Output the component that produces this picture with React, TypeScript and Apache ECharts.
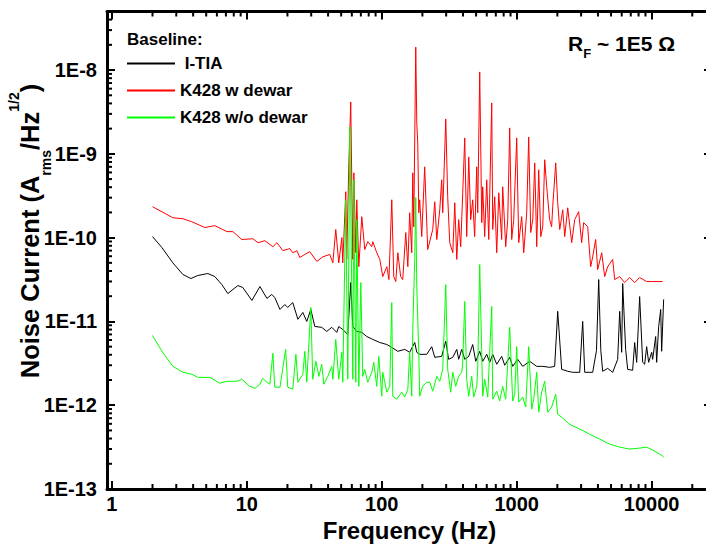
import React, { useEffect, useRef } from 'react';
import * as echarts from 'echarts';

const FONT = '"Liberation Sans", Arial, Helvetica, sans-serif';

// [frequency (Hz), noise current (A_rms / Hz^1/2)]
const tiaSpectrum: [number, number][] = [
  [2, 1.03e-10], [2.35, 7.6e-11], [2.83, 5.0e-11], [3.36, 3.63e-11], [3.85, 3.25e-11], [4.33, 3.53e-11],
  [5.14, 3.73e-11], [5.79, 3.43e-11], [6.53, 2.75e-11], [7.23, 2.15e-11], [8.58, 2.68e-11], [9.34, 2.54e-11],
  [10.9, 1.78e-11], [12.5, 2.61e-11], [14.1, 1.88e-11], [15.3, 2.1e-11], [16.1, 1.93e-11], [17.6, 1.39e-11],
  [19.1, 1.59e-11], [20.1, 1.47e-11], [21.9, 1.68e-11], [23.9, 1.06e-11], [26.0, 1.28e-11], [27.8, 1.0e-11],
  [29.8, 1.39e-11], [31.9, 8.7e-12], [35.9, 8.5e-12], [39.1, 7.6e-12], [42.6, 8.5e-12], [46.4, 7.4e-12],
  [48.0, 8.7e-12], [51.4, 8.0e-12], [56.0, 7.0e-12], [58.9, 2.91e-11], [61.0, 8.7e-12], [65.3, 7.6e-12],
  [71.1, 7.4e-12], [77.4, 6.6e-12], [85.8, 6.1e-12], [96.7, 5.6e-12], [109, 5.3e-12], [118.6, 4.9e-12],
  [131.5, 4.4e-12], [148, 4.64e-12], [161, 4.28e-12], [175.5, 5.6e-12], [181.7, 4.28e-12], [191, 4.05e-12],
  [215.4, 4.05e-12], [234.5, 5.0e-12], [247, 3.73e-12], [278, 3.83e-12], [298, 5.8e-12], [313, 3.53e-12],
  [336, 3.73e-12], [359.6, 4.64e-12], [371.5, 3.53e-12], [391.5, 4.64e-12], [412, 3.53e-12], [441, 3.83e-12],
  [472, 5.3e-12], [497, 3.34e-12], [532, 4.4e-12], [559.7, 3.34e-12], [599.5, 4.05e-12], [631, 3.25e-12],
  [664, 4.05e-12], [711, 3.08e-12], [774, 3.83e-12], [815, 3.0e-12], [887, 3.73e-12], [934, 2.91e-12],
  [1017, 3.53e-12], [1108, 2.91e-12], [1248, 3.34e-12], [1407, 2.91e-12], [1559, 2.91e-12], [1754, 2.83e-12],
  [1911, 2.91e-12], [2013, 1.32e-11], [2154, 2.68e-12], [2388, 2.54e-12], [2600, 2.47e-12], [2930, 2.47e-12],
  [3083, 1.0e-11], [3190, 2.47e-12], [3656, 2.47e-12], [3900, 4.5e-12], [4050, 3.16e-11], [4200, 4.5e-12],
  [4335, 2.54e-12], [4721, 2.75e-12], [5142, 2.47e-12], [5600, 3.53e-12], [5795, 1.32e-11], [5995, 4.28e-12],
  [6100, 2.83e-11], [6415, 4.64e-12], [6640, 2.68e-12], [7230, 2.61e-12], [7482, 5.6e-12], [7745, 3.25e-12],
  [8147, 1.98e-11], [8580, 3.25e-12], [8875, 3.08e-12], [9183, 5.0e-12], [9500, 3.25e-12], [10000, 4.28e-12],
  [10170, 3.53e-12], [10710, 6.6e-12], [10890, 3.25e-12], [11270, 8.7e-12], [11670, 1.39e-11], [11860, 4.4e-12],
  [12270, 1.83e-11],
];

const dewarSpectrum: [number, number][] = [
  [2, 2.34e-10], [2.83, 1.73e-10], [3.36, 1.68e-10], [3.91, 1.55e-10], [4.88, 1.32e-10], [5.79, 1.39e-10],
  [7.11, 1.18e-10], [7.88, 1.18e-10], [9.18, 9.5e-11], [11.1, 9.7e-11], [12.1, 8.7e-11], [13.6, 9.2e-11],
  [15.6, 7.8e-11], [16.7, 8.7e-11], [18.5, 7.0e-11], [20.8, 7.4e-11], [21.9, 6.6e-11], [23.5, 7.0e-11],
  [24.7, 5.8e-11], [26.9, 6.3e-11], [29.3, 6.8e-11], [33.0, 5.2e-11], [36.6, 5.9e-11], [41.2, 6.3e-11],
  [43.4, 5.0e-11], [45.6, 1.25e-10], [48.0, 5.0e-11], [50.6, 1.0e-10], [51.4, 5.0e-11], [54.1, 3.53e-10],
  [55.0, 5.5e-11], [57.0, 7.8e-10], [58.9, 4.16e-9], [61.0, 5.5e-11], [62.1, 5.94e-10], [64.2, 6.6e-11],
  [65.3, 2.83e-10], [67.6, 4.5e-11], [71.1, 1.78e-10], [74.8, 7.2e-11], [78.7, 8.96e-11], [84.3, 7.8e-11],
  [85.8, 8.96e-11], [91.8, 6.6e-11], [96.7, 5.5e-11], [101.7, 3.43e-11], [109, 4.5e-11], [113, 3.16e-11],
  [118.6, 2.83e-10], [122.7, 3.43e-11], [127, 2.99e-11], [131.5, 6.6e-11], [138, 3.43e-11], [143, 3.16e-11],
  [150.6, 1.15e-10], [156, 4.5e-11], [161, 1.98e-10], [166.8, 6.6e-11], [169.7, 5.94e-10], [172.6, 1.35e-10],
  [178.6, 1.88e-8], [181.7, 2.34e-9], [184.8, 1.35e-9], [188, 1.98e-10], [191, 2.83e-10], [197.8, 1.03e-10],
  [208, 7.0e-10], [219, 7.2e-11], [238.6, 1.25e-10], [247, 2.68e-10], [255.6, 9.5e-11], [269, 2.15e-10],
  [278, 4.9e-10], [283, 1.98e-10], [298, 2.61e-9], [308, 3.08e-10], [319, 8.7e-11], [336, 6.6e-11],
  [347.5, 2.61e-10], [359.6, 5.5e-11], [371.5, 1.64e-10], [384.6, 7.8e-11], [398, 3.43e-10], [412, 1.55e-9],
  [426, 1.03e-10], [441, 9.2e-10], [456, 1.64e-10], [472, 2.83e-10], [488, 1.03e-10], [505.6, 7.0e-10],
  [514, 1.98e-10], [532, 9.5e-9], [550.7, 1.51e-10], [559.7, 4.05e-10], [579, 1.03e-10], [599.5, 4.9e-10],
  [620.6, 9.5e-11], [653, 4.05e-9], [664, 1.25e-10], [687, 3.08e-10], [711, 6.6e-11], [736, 3.43e-10],
  [774, 9.5e-11], [787, 4.05e-10], [829, 7.8e-11], [858, 1.64e-10], [887, 2.04e-9], [918, 9.5e-11],
  [950, 1.64e-10], [1000, 1.55e-9], [1035, 8.7e-11], [1089, 1.78e-10], [1127, 6.6e-11], [1186, 1.98e-10],
  [1227, 1.59e-9], [1270, 1.15e-10], [1315, 1.64e-10], [1360, 7.8e-10], [1407, 7.8e-11], [1456, 6.45e-10],
  [1507, 1.03e-10], [1559, 1.35e-10], [1612, 8.5e-10], [1668, 4.05e-10], [1754, 1.64e-10], [1815, 1.35e-10],
  [1848, 2.34e-10], [1945, 7.8e-10], [2013, 2.61e-10], [2084, 1.25e-10], [2193, 2.15e-10], [2269, 1.03e-10],
  [2388, 2.27e-10], [2555, 8.7e-11], [2690, 1.64e-10], [2878, 2.04e-10], [3029, 8.7e-11], [3134, 1.51e-10],
  [3357, 1.35e-10], [3532, 4.5e-11], [3656, 5.9e-11], [3846, 9.5e-11], [3981, 4.16e-11], [4265, 6.6e-11],
  [4487, 3.43e-11], [4721, 4.5e-11], [5142, 5.5e-11], [5321, 3.16e-11], [5795, 3.43e-11], [6310, 2.91e-11],
  [6871, 3.34e-11], [7482, 2.91e-11], [8147, 3.34e-11], [9183, 2.99e-11], [10170, 2.99e-11], [12060, 2.99e-11],
];

const noDewarSpectrum: [number, number][] = [
  [2, 6.8e-12], [2.35, 4.4e-12], [2.83, 2.91e-12], [3.36, 2.47e-12], [3.91, 2.34e-12], [4.33, 2.15e-12],
  [5.32, 2.15e-12], [6.31, 1.83e-12], [7.11, 1.93e-12], [8.43, 1.93e-12], [9.18, 2.04e-12], [10.5, 1.68e-12],
  [11.5, 1.59e-12], [12.5, 1.78e-12], [13.1, 2.1e-12], [14.1, 1.88e-12], [14.8, 1.78e-12], [15.6, 4.16e-12],
  [16.1, 1.64e-12], [17.6, 1.64e-12], [19.4, 4.64e-12], [20.1, 1.64e-12], [21.9, 1.55e-12], [23.1, 4.05e-12],
  [23.9, 1.88e-12], [26.0, 2.34e-12], [26.9, 4.4e-12], [27.8, 1.88e-12], [29.8, 1.47e-11], [30.8, 2.04e-12],
  [32.5, 3.34e-12], [34.2, 2.21e-12], [35.9, 3.08e-12], [37.2, 1.78e-12], [39.8, 2.21e-12], [42.6, 2.91e-12],
  [43.4, 2.04e-12], [45.6, 6.1e-12], [48.0, 2.04e-12], [50.6, 4.28e-12], [51.4, 1.88e-12], [54.1, 2.83e-10],
  [56.0, 2.04e-12], [58, 2.1e-9], [61.0, 2.04e-12], [62.1, 4.9e-10], [64.2, 1.88e-12], [65.3, 1.64e-10],
  [67.6, 1.68e-12], [69.9, 2.91e-11], [72.3, 2.21e-12], [74.8, 2.68e-12], [78.7, 1.88e-12], [84.3, 2.47e-12],
  [87.3, 3.25e-12], [91.8, 1.68e-12], [95.0, 3.83e-12], [100, 1.28e-12], [101.7, 2.47e-12], [109, 1.43e-12],
  [114.6, 1.68e-12], [118.6, 1.68e-11], [120.6, 1.28e-12], [129, 1.18e-12], [140.7, 1.43e-12], [148, 1.25e-12],
  [156, 1.55e-12], [161, 4.28e-12], [166.8, 1.28e-12], [169.7, 8.0e-12], [175.5, 5.5e-11], [178.6, 3.0e-10],
  [181.7, 2.61e-11], [188, 4.28e-12], [191, 1.28e-12], [201, 1.68e-12], [215.4, 1.88e-12], [226.7, 1.88e-12],
  [238.6, 1.47e-12], [255.6, 2.21e-12], [269, 1.93e-12], [283, 2.68e-12], [298, 2.75e-11], [308, 2.68e-12],
  [324.4, 1.43e-12], [336, 2.47e-12], [353, 1.68e-12], [371.5, 2.21e-12], [391.5, 2.47e-12], [398, 3.25e-12],
  [412, 1.73e-11], [426, 2.04e-12], [441, 1.28e-12], [464, 2.21e-12], [480, 1.25e-12], [505.6, 1.68e-12],
  [514, 2.68e-12], [532, 4.77e-11], [559.7, 1.28e-12], [579, 2.04e-12], [610, 1.25e-12], [653, 1.51e-11],
  [664, 1.18e-12], [711, 1.47e-12], [748, 1.12e-12], [787, 1.68e-12], [829, 1.18e-12], [887, 8.5e-12],
  [934, 1.12e-12], [967, 1.35e-12], [1000, 5.0e-12], [1035, 1.09e-12], [1108, 1.25e-12], [1166, 9.5e-13],
  [1227, 5.0e-12], [1292, 8.96e-13], [1336, 1.18e-12], [1407, 2.47e-12], [1456, 8.26e-13], [1531, 1.43e-12],
  [1612, 1.93e-12], [1698, 8.26e-13], [1815, 9.5e-13], [1945, 1.35e-12], [2013, 7.8e-13], [2154, 7.2e-13],
  [2470, 5.9e-13], [2930, 5.2e-13], [3474, 4.5e-13], [4120, 3.94e-13], [4887, 3.43e-13], [5795, 3.16e-13],
  [6871, 2.99e-13], [8147, 3.08e-13], [9183, 3.16e-13], [10170, 2.91e-13], [11460, 2.61e-13], [12270, 2.41e-13],
];

const seriesNames = ['I-TIA', 'K428 w dewar', 'K428 w/o dewar'];
const seriesColors = ['#000000', '#ff0000', '#00ff00'];
const seriesData = [tiaSpectrum, dewarSpectrum, noDewarSpectrum];

const X_MIN = 0.92;
const X_MAX = 28000;
const Y_MIN = 1e-13;
const Y_MAX = 5e-8;
// ECharts' log scale rounds tick values to 10 decimals, so values are plotted in units of 1e-13 A.
const UNIT = 1e-13;
const UNIT_EXP = -13;

const MINOR_LEN = 5;

function buildMinor(lo: number, hi: number): number[] {
  const out: number[] = [];
  for (let d = Math.pow(10, Math.floor(Math.log10(lo))); d < hi; d *= 10) {
    for (let m = 2; m <= 9; m++) {
      const v = m * d;
      if (v > lo && v < hi) out.push(v);
    }
  }
  return out;
}

const xMinor = buildMinor(X_MIN, X_MAX);
const yMinor = buildMinor(Y_MIN / UNIT, Y_MAX / UNIT);

const tickStyle = { stroke: '#000', lineWidth: 2 };

const axisCommon = {
  splitLine: { show: false },
  axisLine: { show: true, lineStyle: { color: '#000', width: 3 } },
  axisTick: { show: true, inside: true, length: 8, lineStyle: { color: '#000', width: 2 } },
};

const labelStyle = {
  fontFamily: FONT,
  fontWeight: 'bold' as const,
  fontSize: 20,
  color: '#000',
};

const option: any = {
  animation: false,
  backgroundColor: '#ffffff',
  grid: { left: 107, top: 11.5, width: 605, height: 477.5, containLabel: false, outerBoundsMode: 'none' },
  legend: {
    data: seriesNames,
    orient: 'vertical',
    left: 126,
    top: 55,
    padding: 0,
    itemWidth: 48,
    itemHeight: 14,
    itemGap: 10,
    selectedMode: false,
    itemStyle: { opacity: 0 },
    formatter: (n: string) => (n === 'I-TIA' ? ' I-TIA' : n),
    textStyle: { fontFamily: FONT, fontWeight: 'bold', fontSize: 17, color: '#000', lineHeight: 14 },
  },
  xAxis: [
    {
      type: 'log',
      logBase: 10,
      min: X_MIN,
      max: X_MAX,
      position: 'bottom',
      ...axisCommon,
      axisLabel: {
        ...labelStyle,
        margin: 5,
        showMinLabel: false,
        showMaxLabel: false,
        formatter: (v: number) => String(Math.round(v)),
      },
      name: 'Frequency (Hz)',
      nameLocation: 'middle',
      nameGap: 28,
      nameTextStyle: { fontFamily: FONT, fontWeight: 'bold', fontSize: 24, color: '#000' },
    },
    {
      type: 'log',
      logBase: 10,
      min: X_MIN,
      max: X_MAX,
      position: 'top',
      ...axisCommon,
      axisLabel: { show: false },
    },
  ],
  yAxis: [
    {
      type: 'log',
      logBase: 10,
      min: Y_MIN / UNIT,
      max: Y_MAX / UNIT,
      position: 'left',
      ...axisCommon,
      axisLabel: {
        ...labelStyle,
        margin: 10,
        showMaxLabel: false,
        formatter: (v: number) => '1E' + (Math.round(Math.log10(v)) + UNIT_EXP),
      },
    },
    {
      type: 'log',
      logBase: 10,
      min: Y_MIN / UNIT,
      max: Y_MAX / UNIT,
      position: 'right',
      ...axisCommon,
      axisLabel: { show: false },
    },
  ],
  graphic: [
    {
      type: 'text',
      x: 30,
      y: 231,
      rotation: Math.PI / 2,
      style: {
        text: '{m|Noise Current (A}{sub|rms}{m|/Hz}{sup|1/2}{m|)}',
        align: 'center',
        verticalAlign: 'middle',
        rich: {
          m: { fontFamily: FONT, fontWeight: 'bold', fontSize: 25.5, fill: '#000', lineHeight: 46 },
          sub: { fontFamily: FONT, fontWeight: 'bold', fontSize: 14, fill: '#000', lineHeight: 14, verticalAlign: 'bottom' },
          sup: { fontFamily: FONT, fontWeight: 'bold', fontSize: 14, fill: '#000', lineHeight: 14, verticalAlign: 'top' },
        },
      },
    },
    {
      type: 'text',
      left: 127,
      top: 31,
      style: { text: 'Baseline:', fontFamily: FONT, fontWeight: 'bold', fontSize: 17, fill: '#000' },
    },
    {
      type: 'text',
      left: 568,
      top: 33,
      style: {
        text: '{a|R}{b|F}{a| ~ 1E5 \u03A9}',
        rich: {
          a: { fontFamily: FONT, fontWeight: 'bold', fontSize: 21, fill: '#000', lineHeight: 32 },
          b: { fontFamily: FONT, fontWeight: 'bold', fontSize: 13, fill: '#000', lineHeight: 13, verticalAlign: 'bottom' },
        },
      },
    },
  ],
  series: [
    ...seriesData.map((d, i) => ({
      name: seriesNames[i],
      type: 'line',
      xAxisIndex: 0,
      yAxisIndex: 0,
      data: d.map(([f, v]) => [f, v / UNIT]),
      symbol: 'none',
      showSymbol: false,
      lineStyle: { color: seriesColors[i], width: 1 },
      itemStyle: { color: seriesColors[i] },
      z: 2 + i,
    })),
    {
      type: 'custom',
      name: 'xMinorTicks',
      xAxisIndex: 0,
      yAxisIndex: 0,
      silent: true,
      clip: false,
      z: 10,
      data: xMinor.map((v) => [v, 10]),
      renderItem: (params: any, api: any) => {
        const cs = params.coordSys;
        const x = api.coord([api.value(0), api.value(1)])[0];
        const b = cs.y + cs.height;
        return {
          type: 'group',
          children: [
            { type: 'line', shape: { x1: x, y1: b, x2: x, y2: b - MINOR_LEN }, style: tickStyle },
            { type: 'line', shape: { x1: x, y1: cs.y, x2: x, y2: cs.y + MINOR_LEN }, style: tickStyle },
          ],
        };
      },
    },
    {
      type: 'custom',
      name: 'yMinorTicks',
      xAxisIndex: 0,
      yAxisIndex: 0,
      silent: true,
      clip: false,
      z: 10,
      data: yMinor.map((v) => [10, v]),
      renderItem: (params: any, api: any) => {
        const cs = params.coordSys;
        const y = api.coord([api.value(0), api.value(1)])[1];
        const r = cs.x + cs.width;
        return {
          type: 'group',
          children: [
            { type: 'line', shape: { x1: cs.x, y1: y, x2: cs.x + MINOR_LEN, y2: y }, style: tickStyle },
            { type: 'line', shape: { x1: r, y1: y, x2: r - MINOR_LEN, y2: y }, style: tickStyle },
          ],
        };
      },
    },
  ],
};

export default function App() {
  const ref = useRef<HTMLDivElement>(null);
  useEffect(() => {
    if (!ref.current) return;
    const chart = echarts.init(ref.current, null, { renderer: 'svg' });
    chart.setOption(option);
    return () => chart.dispose();
  }, []);
  return (
    <div
      ref={ref}
      style={{ position: 'fixed', left: 0, top: 0, width: 720, height: 550, background: '#fff' }}
    />
  );
}
